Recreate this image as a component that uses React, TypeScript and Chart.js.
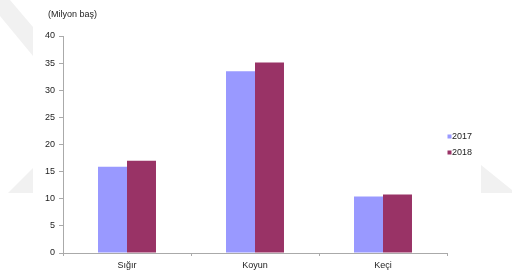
import React, { useEffect, useRef } from "react";
import { Chart, registerables } from "chart.js";

Chart.register(...registerables);

const categories = ["Sığır", "Koyun", "Keçi"];
const series2017 = [15.9, 33.5, 10.4];
const series2018 = [17.0, 35.1, 10.8];
const seriesLabels = ["2017", "2018"];
const seriesColors = ["#9999FF", "#993366"];
const unitLabel = "(Milyon baş)";

const FONT = "'Liberation Sans', Arial, sans-serif";

const watermark = {
  id: "watermark",
  beforeDraw(chart: any) {
    const ctx = chart.ctx;
    ctx.save();
    ctx.fillStyle = "#f1f1f1";
    const polys = [
      [[0, 0], [10, 0], [33, 27], [33, 56], [0, 16]],
      [[33, 168], [33, 193], [8, 193]],
      [[481, 165], [512, 190], [512, 193], [481, 193]],
    ];
    polys.forEach((p) => {
      ctx.beginPath();
      p.forEach(([x, y], i) => (i ? ctx.lineTo(x, y) : ctx.moveTo(x, y)));
      ctx.closePath();
      ctx.fill();
    });
    ctx.restore();
  },
};

const extras = {
  id: "extras",
  afterDraw(chart: any) {
    const ctx = chart.ctx;
    const area = chart.chartArea;
    ctx.save();
    ctx.font = `9px ${FONT}`;
    ctx.fillStyle = "#222";
    ctx.textBaseline = "middle";
    ctx.textAlign = "left";
    ctx.fillText(unitLabel, 48, 15);
    const midY = (area.top + area.bottom) / 2;
    const gap = 16;
    seriesLabels.forEach((lab, i) => {
      const y = midY - gap / 2 + i * gap;
      ctx.fillStyle = seriesColors[i];
      ctx.fillRect(area.right + 0.5, y - 2, 4, 4);
      ctx.fillStyle = "#222";
      ctx.fillText(lab, area.right + 5, y);
    });
    ctx.restore();
  },
};

export default function App() {
  const ref = useRef<HTMLCanvasElement>(null);
  useEffect(() => {
    const chart = new Chart(ref.current as HTMLCanvasElement, {
      type: "bar",
      data: {
        labels: categories,
        datasets: [
          { label: seriesLabels[0], data: series2017, backgroundColor: seriesColors[0] },
          { label: seriesLabels[1], data: series2018, backgroundColor: seriesColors[1] },
        ],
      },
      options: {
        responsive: false,
        animation: false,
        layout: { padding: { left: 33, right: 65, top: 36, bottom: 0 } },
        plugins: { legend: { display: false }, tooltip: { enabled: false } },
        datasets: { bar: { categoryPercentage: 0.453, barPercentage: 1 } },
        scales: {
          x: {
            afterFit: (s: any) => {
              s.height = 23;
            },
            grid: { drawOnChartArea: false, drawTicks: true, tickLength: 3, color: "#aaa", offset: true },
            border: { display: true, color: "#aaa" },
            ticks: { color: "#222", font: { family: FONT, size: 9 }, padding: 4 },
          },
          y: {
            min: 0,
            max: 40,
            afterFit: (s: any) => {
              s.width = 30;
            },
            grid: { drawOnChartArea: false, drawTicks: true, tickLength: 4, color: "#aaa" },
            border: { display: true, color: "#aaa" },
            ticks: { stepSize: 5, color: "#222", font: { family: FONT, size: 9 }, padding: 4 },
          },
        },
      },
      plugins: [watermark, extras],
    });
    return () => chart.destroy();
  }, []);
  return (
    <div style={{ position: "fixed", left: 0, top: 0, width: 512, height: 276, background: "#fff" }}>
      <canvas ref={ref} width={512} height={276} />
    </div>
  );
}
